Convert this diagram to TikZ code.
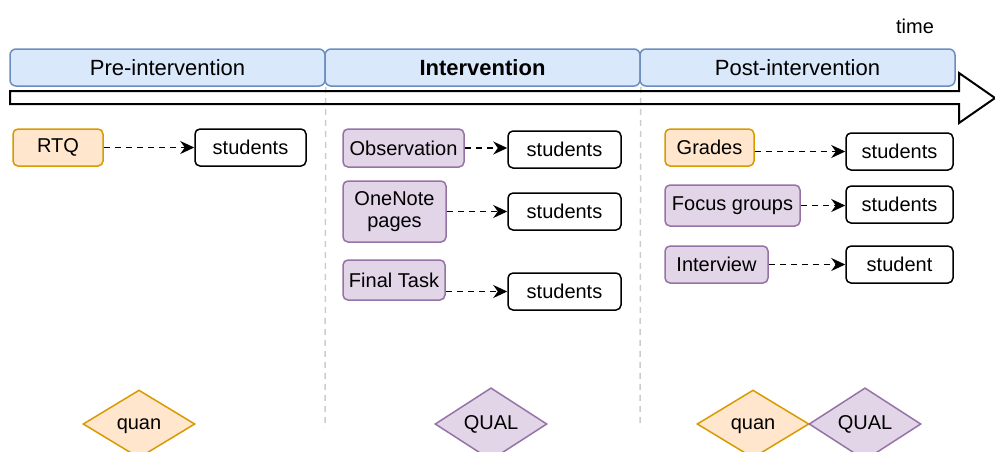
\documentclass[tikz,border=0pt]{standalone}
\usepackage{fontspec}
\setmainfont{Liberation Sans}
\usepackage{tikz}
\usepackage{xcolor}
\usetikzlibrary{shapes.geometric, arrows.meta}

\definecolor{phasefill}{HTML}{DAE8FC}
\definecolor{phaseline}{HTML}{6C8EBF}
\definecolor{quanfill}{HTML}{FFE6CC}
\definecolor{quanline}{HTML}{D79B00}
\definecolor{qualfill}{HTML}{E1D5E7}
\definecolor{qualline}{HTML}{9673A6}

\tikzset{
    phase/.style={rectangle, rounded corners=6pt, draw=phaseline, fill=phasefill, line width=1.5pt,
        minimum width=315pt, minimum height=37pt, font=\fontsize{22}{26}\selectfont},
    quanbox/.style={rectangle, rounded corners=5pt, draw=quanline, fill=quanfill, line width=1.5pt,
        minimum height=37pt, inner sep=2pt, font=\fontsize{20}{24}\selectfont},
    qualbox/.style={rectangle, rounded corners=5pt, draw=qualline, fill=qualfill, line width=1.5pt,
        minimum height=37pt, inner sep=2pt, align=center, font=\fontsize{20}{24}\selectfont},
    who/.style={rectangle, rounded corners=5pt, draw, line width=1.5pt,
        minimum width=107pt, minimum height=37pt, font=\fontsize{20}{24}\selectfont},
    flow/.style={line width=1.5pt, dash pattern=on 6pt off 5pt, -{Stealth[length=14pt, width=13pt]}},
    quandia/.style={diamond, draw=quanline, fill=quanfill, line width=1.5pt, inner sep=0pt,
        minimum width=112pt, minimum height=68pt, text height=14pt, text depth=4pt,
        font=\fontsize{20}{24}\selectfont},
    qualdia/.style={diamond, draw=qualline, fill=qualfill, line width=1.5pt, inner sep=0pt,
        minimum width=112pt, minimum height=68pt, text height=14pt, text depth=4pt,
        font=\fontsize{20}{24}\selectfont},
    divider/.style={draw=black!20, line width=1.5pt, dash pattern=on 6pt off 5pt}
}

\begin{document}
\begin{tikzpicture}[x=1pt, y=-1pt]
        \clip (0, 0) rectangle (995, 451);

        \node[phase] (pre) at (167.5, 67.5) {Pre-intervention};
        \node[phase, font=\fontsize{22}{26}\selectfont\bfseries] (int) at (482.5, 67.5) {Intervention};
        \node[phase] (post) at (797.5, 67.5) {Post-intervention};
        \node[font=\fontsize{20}{24}\selectfont] (time) at (915, 26) {time};

        \coordinate (d1) at (325, 428);
        \coordinate (d2) at (640, 428);
        \draw[divider] (pre.south east) -- (d1)
            (int.south east) -- (d2);

        % time arrow
        \draw[line width=2pt, line join=miter] (10, 91) -- (959, 91) -- (959, 73) -- (995, 98)
            -- (959, 123) -- (959, 104) -- (10, 104) -- cycle;

        \node[quanbox, minimum width=90pt] (rtq) at (58, 147.5) {RTQ};
        \node[who, minimum width=111pt] (s1) at (250.5, 147.5) {students};

        \node[qualbox, minimum width=121pt, minimum height=38pt] (obs) at (403.5, 148) {Observation};
        \node[who, minimum width=113pt] (s2) at (564.5, 149.5) {students};
        \node[qualbox, minimum width=103pt, minimum height=61pt] (onenote) at (394.5, 211.5) {OneNote\\[-2pt]pages};
        \node[who, minimum width=113pt] (s3) at (564.5, 211.5) {students};
        \node[qualbox, minimum width=102pt, minimum height=40pt] (final) at (394, 280) {Final Task};
        \node[who, minimum width=113pt] (s4) at (564.5, 291.5) {students};

        \node[quanbox, minimum width=89pt] (grades) at (709.5, 147.5) {Grades};
        \node[who] (s5) at (899.5, 151.5) {students};
        \node[qualbox, minimum width=135pt, minimum height=41pt] (focus) at (732.5, 205.5) {Focus groups};
        \node[who] (s6) at (899.5, 204.5) {students};
        \node[qualbox, minimum width=103pt] (interview) at (716.5, 264.5) {Interview};
        \node[who] (s7) at (899.5, 264.5) {student};

        \draw[flow] (rtq.east |- s1.west) to (s1.west);
        \draw[flow] (obs.east) to (obs.east -| s2.west);
        \draw[flow] (onenote.east |- s3.west) to (s3.west);
        \draw[flow] (final.east |- s4.west) to (s4.west);
        \draw[flow] (grades.east |- s5.west) to (s5.west);
        \draw[flow] (focus.east) to (focus.east -| s6.west);
        \draw[flow] (interview.east |- s7.west) to (s7.west);

        \node[quandia] (quan1) at (139, 424) {quan};
        \node[qualdia] (qual1) at (491, 424) {QUAL};
        \node[quandia] (quan2) at (753, 424) {quan};
        \node[qualdia] (qual2) at (865, 424) {QUAL};
    \end{tikzpicture}
\end{document}
